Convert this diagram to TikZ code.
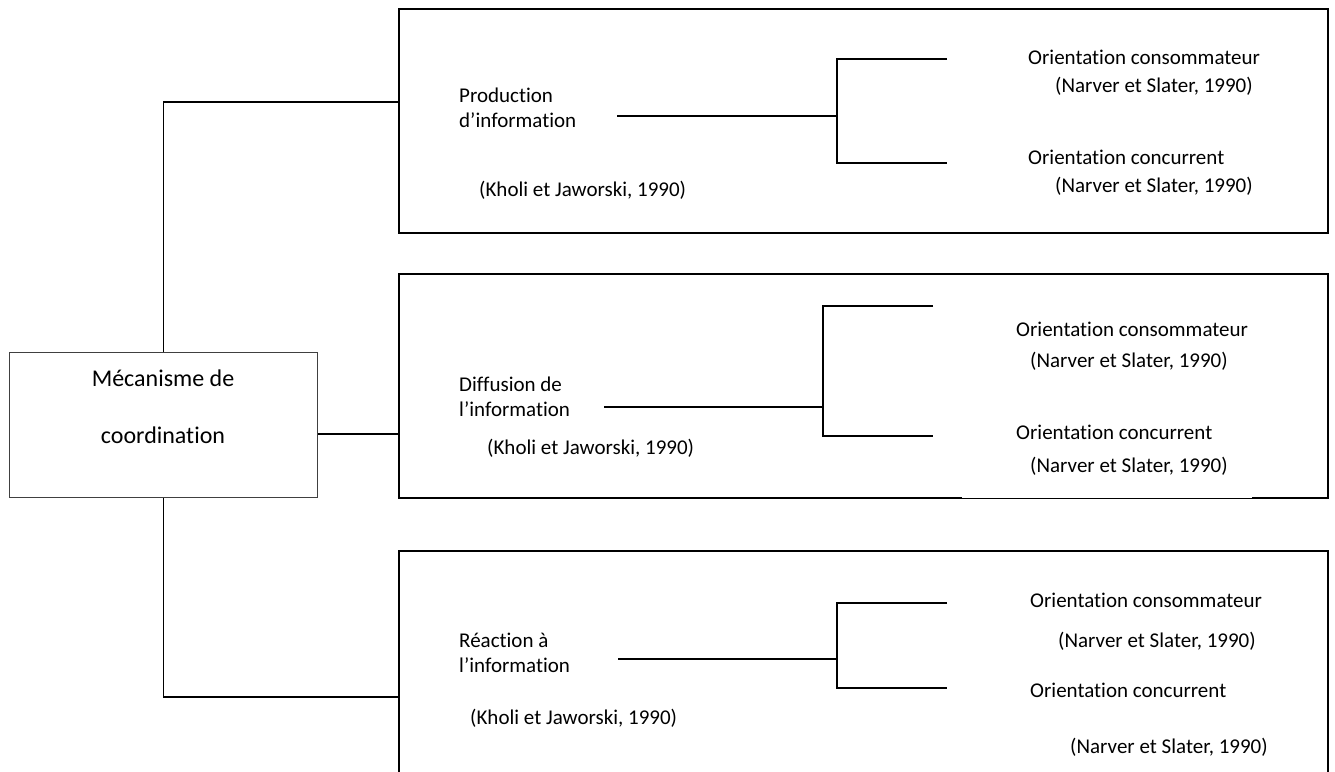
\documentclass[tikz,border=0pt]{standalone}
\usepackage{fontspec}
\setmainfont{Carlito}[Ligatures=NoCommon]
\begin{document}
\begin{tikzpicture}[x=1pt,y=-1pt,
  bigbox/.style={draw, line width=2.2pt, anchor=north west, inner sep=0pt, minimum width=929pt, minimum height=224pt},
  mainbox/.style={draw=black!75, line width=1.2pt, anchor=north west, inner sep=0pt, minimum width=308pt, minimum height=145pt},
  link/.style={line width=1.5pt},
  lbl/.style={anchor=west, inner sep=0pt, font=\fontsize{21}{25}\selectfont, align=left},
  ctext/.style={inner sep=0pt, font=\fontsize{24}{28}\selectfont},
]
\clip (0,0) rectangle (1335,771);
\fill[white] (0,0) rectangle (1335,771);

% boxes
\node[bigbox] (b1) at (398,8) {};
\node[bigbox] (b2) at (398,273) {};
\node[bigbox] (b3) at (398,550) {};
\fill[white] (962,494.5) rectangle (1252,499.6);
\draw[line width=1.2pt] (962,498.8) -- (1252,498.8);

% central box
\node[mainbox] (c) at (9,352) {};
\node[ctext] (c1) at (163,378) {Mécanisme de};
\node[ctext] (c2) at (163,435) {coordination};

% connectors from central box
\coordinate (j1) at (398,102);
\coordinate (j2) at (398,434);
\coordinate (j3) at (398,697);
\draw[link] (c.north) |- (j1);
\draw[link] (c.east |- j2) -- (j2);
\draw[link] (c.south) |- (j3);

% ---- top box
\node[lbl] (p1) at (459,108) {Production\\d’information};
\node[lbl] (kj1) at (479,190) {(Kholi et Jaworski, 1990)};
\node[lbl] (o1) at (1028,57) {Orientation consommateur};
\node[lbl] (n1) at (1055,86) {(Narver et Slater, 1990)};
\node[lbl] (q1) at (1028,157) {Orientation concurrent};
\node[lbl] (m1) at (1055,186) {(Narver et Slater, 1990)};
\coordinate (s1) at (617,116);
\coordinate (k1) at (837,116);
\coordinate (u1) at (947,59);
\coordinate (d1) at (947,163);
\draw[link] (s1) -- (k1);
\draw[link] (u1) -- (u1 -| k1) -- (d1 -| k1) -- (d1);

% ---- middle box
\node[lbl] (p2) at (459,397) {Diffusion de\\l’information};
\node[lbl] (kj2) at (487,448) {(Kholi et Jaworski, 1990)};
\node[lbl] (o2) at (1016,329) {Orientation consommateur};
\node[lbl] (n2) at (1030,361) {(Narver et Slater, 1990)};
\node[lbl] (q2) at (1016,432) {Orientation concurrent};
\node[lbl] (m2) at (1030,466) {(Narver et Slater, 1990)};
\coordinate (s2) at (604,407);
\coordinate (k2) at (823,407);
\coordinate (u2) at (933,306);
\coordinate (d2) at (933,436);
\draw[link] (s2) -- (k2);
\draw[link] (u2) -- (u2 -| k2) -- (d2 -| k2) -- (d2);

% ---- bottom box
\node[lbl] (p3) at (459,653) {Réaction à\\l’information};
\node[lbl] (kj3) at (470,718) {(Kholi et Jaworski, 1990)};
\node[lbl] (o3) at (1030,600) {Orientation consommateur};
\node[lbl] (n3) at (1058,641) {(Narver et Slater, 1990)};
\node[lbl] (q3) at (1030,690) {Orientation concurrent};
\node[lbl] (m3) at (1070,747) {(Narver et Slater, 1990)};
\coordinate (s3) at (618,659);
\coordinate (k3) at (837,659);
\coordinate (u3) at (947,603);
\coordinate (d3) at (947,688);
\draw[link] (s3) -- (k3);
\draw[link] (u3) -- (u3 -| k3) -- (d3 -| k3) -- (d3);
\end{tikzpicture}
\end{document}
